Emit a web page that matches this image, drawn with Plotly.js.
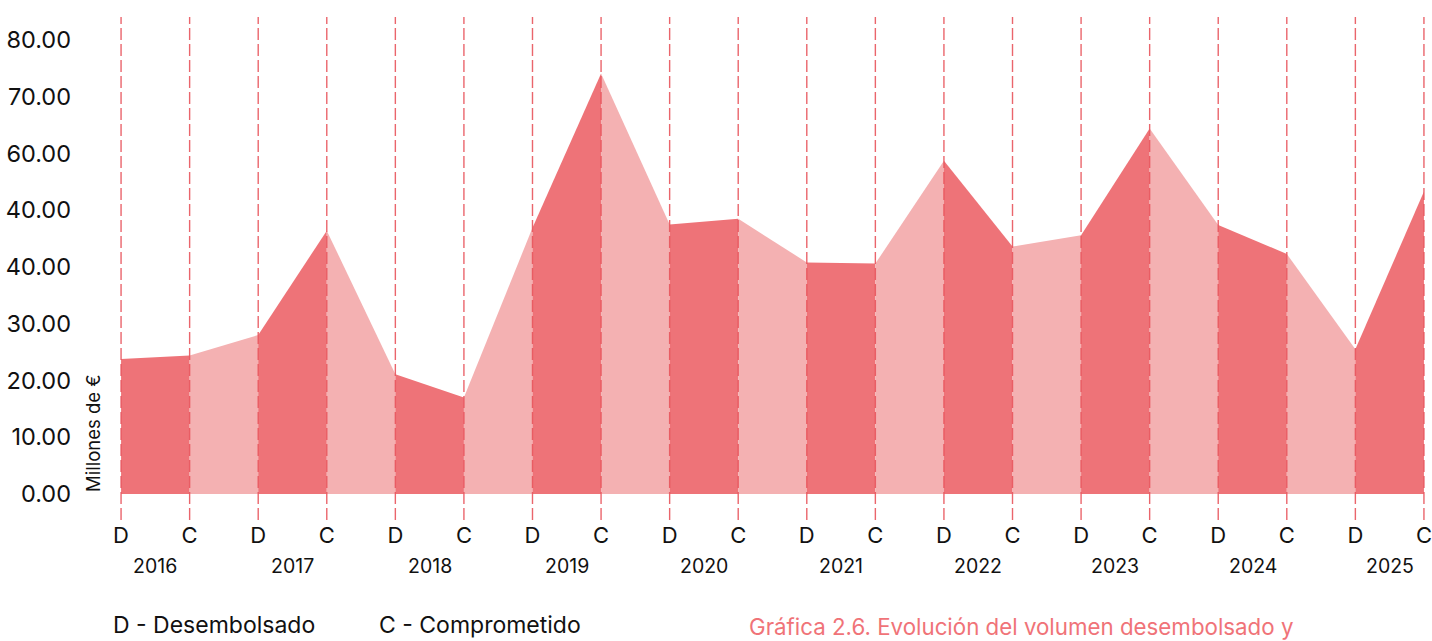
<!DOCTYPE html>
<html>
<head>
<meta charset="utf-8">
<script src="https://cdn.plot.ly/plotly-3.0.1.min.js"></script>
<style>html,body{margin:0;padding:0;background:#fff;}#chart{width:1432px;height:641px;}</style>
</head>
<body>
<div id="chart"></div>
<script>
// Data
const years = ["2016","2017","2018","2019","2020","2021","2022","2023","2024","2025"];
const pointLabels = ["D","C","D","C","D","C","D","C","D","C","D","C","D","C","D","C","D","C","D","C"];
const values = [23.8, 24.4, 28.0, 46.4, 21.1, 17.0, 46.9, 74.1, 47.5, 48.5,
                40.8, 40.6, 58.7, 43.6, 45.6, 64.4, 47.4, 42.3, 25.5, 53.3];
const yTickVals = [0,10,20,30,40,50,60,70,80];
const yTickText = ["0.00","10.00","20.00","30.00","40.00","40.00","60.00","70.00","80.00"];
const legendText = ["D - Desembolsado", "C - Comprometido"];
const captionText = "Gráfica 2.6. Evolución del volumen desembolsado y";

const darkFill = "#EE7378";
const lightFill = "#F4B1B2";
const lineColor = "rgba(232,84,92,0.9)";

const idx = values.map((_, i) => i);
const traces = [];
for (let i = 0; i < values.length - 1; i++) {
  traces.push({
    type: "scatter",
    x: [idx[i], idx[i+1]],
    y: [values[i], values[i+1]],
    mode: "none",
    fill: "tozeroy",
    fillcolor: (i % 2 === 0) ? darkFill : lightFill,
    hoverinfo: "skip",
    showlegend: false
  });
}

const shapes = idx.map(i => ({
  type: "line", xref: "x", yref: "paper", x0: i, x1: i, y0: 0, y1: 1,
  line: {color: lineColor, width: 1.4, dash: "12px,4px"}, layer: "above"
}));

const font = "Inter, 'Open Sans', sans-serif";
const annotations = [];
years.forEach((yr, k) => {
  annotations.push({
    text: yr, x: 2*k + 0.5, xref: "x", y: 0, yref: "paper",
    yanchor: "top", xanchor: "center", yshift: -32, showarrow: false,
    font: {family: font, size: 19.5, color: "#111"}
  });
});
annotations.push({
  text: "Millones de €", textangle: -90, xref: "paper", x: 0, xshift: -26,
  yref: "y", y: 0, yanchor: "bottom", xanchor: "center", showarrow: false,
  font: {family: font, size: 18.5, color: "#111"}
});
annotations.push({
  text: legendText[0], xref: "paper", x: 0, xshift: -8, xanchor: "left",
  yref: "paper", y: 0, yshift: -105, yanchor: "middle", showarrow: false,
  font: {family: font, size: 23, color: "#111"}
});
annotations.push({
  text: legendText[1], xref: "paper", x: 0, xshift: 258, xanchor: "left",
  yref: "paper", y: 0, yshift: -105, yanchor: "middle", showarrow: false,
  font: {family: font, size: 23, color: "#111"}
});
annotations.push({
  text: captionText, xref: "paper", x: 0, xshift: 628, xanchor: "left",
  yref: "paper", y: 0, yshift: -106, yanchor: "middle", showarrow: false,
  font: {family: font, size: 22.3, color: "#F07378"}
});

const layout = {
  width: 1432, height: 641,
  margin: {l: 119, r: 6, t: 17, b: 121},
  paper_bgcolor: "#fff", plot_bgcolor: "#fff",
  showlegend: false,
  xaxis: {
    range: [-0.03, 19.03], tickmode: "array", tickvals: idx, ticktext: pointLabels,
    showgrid: false, zeroline: false, showline: false, ticks: "",
    ticklabeloverflow: "allow",
    tickfont: {family: font, size: 22, color: "#111"}
  },
  yaxis: {
    range: [-4.58, 84.05], tickmode: "array", tickvals: yTickVals, ticktext: yTickText,
    showgrid: false, zeroline: false, showline: false, ticks: "",
    ticklabelstandoff: 47,
    tickfont: {family: font, size: 23.5, color: "#111"}
  },
  shapes: shapes,
  annotations: annotations
};

Plotly.newPlot("chart", traces, layout, {displayModeBar: false, staticPlot: true});
</script>
</body>
</html>
